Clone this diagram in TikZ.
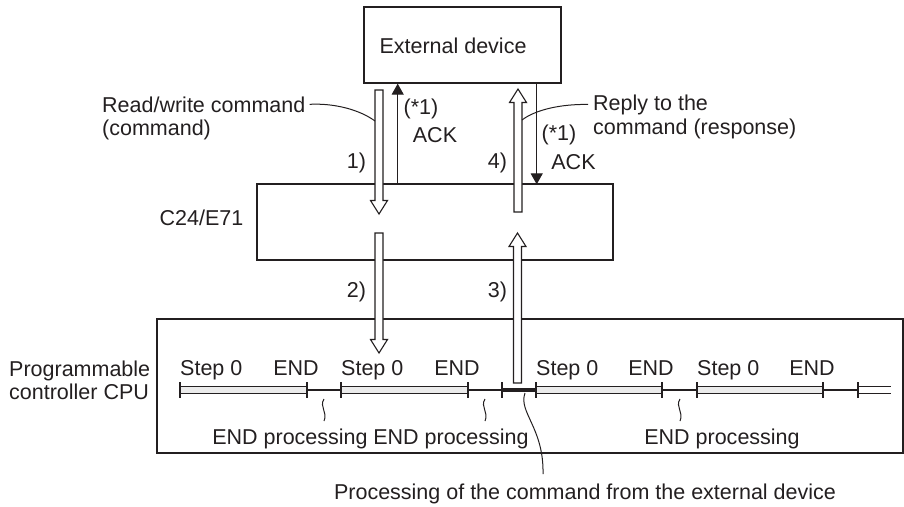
\documentclass[tikz,border=0pt]{standalone}
\usepackage{fontspec}
\setmainfont{Liberation Sans}
\usetikzlibrary{arrows.meta}
\definecolor{ink}{HTML}{231F20}
\begin{document}
\begin{tikzpicture}[x=1pt,y=-1pt,
  every node/.style={font=\fontsize{21.5}{24}\selectfont, inner sep=0pt, text=ink},
  box/.style={draw=ink, line width=1.3pt, inner sep=0pt},
  leader/.style={draw=ink, line width=1pt},
  ack/.style={draw=ink, line width=1.2pt, -{Triangle[width=12pt,length=11pt]}},
  tick/.style={draw=ink, line width=1.5pt},
  link/.style={draw=ink, line width=1.3pt},
  scanbar/.style={draw=ink, line width=1.1pt, fill=black!8},
  pics/blockarrow/.style={code={
    \draw[draw=ink, line width=1.1pt, fill=white, line join=miter]
      (-4,0) -- (-4,{#1-13.5}) -- (-8.5,{#1-13.5}) -- (0,#1)
      -- (8.5,{#1-13.5}) -- (4,{#1-13.5}) -- (4,0) -- cycle;}}
]
\useasboundingbox (0,0) rectangle (904,506);

% units
\node[box, minimum width=197pt, minimum height=76pt] (ext) at (462.5,45) {};
\node[anchor=base] (exttxt) at (453,53) {External device};
\node[box, minimum width=356pt, minimum height=76pt] (c24) at (435,222) {};
\node[anchor=base] (c24txt) at (201.5,225) {C24/E71};
\node[box, minimum width=746pt, minimum height=134pt] (plc) at (530,386) {};
\node[anchor=base west] (plc1) at (9,376) {Programmable};
\node[anchor=base west] (plc2) at (9,399) {controller CPU};

% block arrows: command, transfer, return, response
\pic at (379,90) {blockarrow=124};
\pic at (379,233) {blockarrow=120};
\pic[rotate=180] at (517.5,383) {blockarrow=150};
\pic[rotate=180] at (518,212) {blockarrow=123};

% ACK lines
\coordinate (ackup) at (397.7,0);
\coordinate (ackdn) at (536.7,0);
\draw[ack] (c24.north -| ackup) -- (ext.south -| ackup);
\draw[ack] (ext.south -| ackdn) -- ([yshift=-1pt]c24.north -| ackdn);

% labels around the arrows
\node[anchor=base] (n1) at (356.5,168) {1)};
\node[anchor=base] (n4) at (497.5,168) {4)};
\node[anchor=base] (n2) at (356.5,297) {2)};
\node[anchor=base] (n3) at (497.5,297) {3)};
\node[anchor=base] (s1a) at (421,114) {(*1)};
\node[anchor=base] (ack1) at (435,142) {ACK};
\node[anchor=base] (s1b) at (559,140) {(*1)};
\node[anchor=base] (ack2) at (573.5,169) {ACK};

\node[anchor=base west] (rw) at (102,112) {Read/write command};
\node[anchor=base west] (rw2) at (102,135) {(command)};
\node[anchor=base west] (rp) at (593,110) {Reply to the};
\node[anchor=base west] (rp2) at (593,134) {command (response)};
\coordinate (rwend) at (375,121);
\coordinate (rpend) at (522,120);
\draw[leader] ([xshift=4pt]rw.east) .. controls (335,103) and (360,110) .. (rwend);
\draw[leader] ([xshift=-5pt]rp.west) .. controls (560,104) and (535,110) .. (rpend);

% scan timeline
\foreach \a/\b in {307/341, 468/502, 662/697, 823/858}
  \draw[link] (\a,390) -- (\b,390);
\draw[draw=ink, line width=4pt] (502,390) -- (536,390);
\foreach \a/\b in {180/307, 341/468, 536/662, 697/823}
  \draw[scanbar] (\a,386.5) rectangle (\b,393.5);
\draw[link] (858,386.5) -- (891,386.5);
\draw[link] (858,393.5) -- (891,393.5);
\foreach \x in {180,307,341,468,502,536,662,697,823,858}
  \draw[tick] (\x,382) -- (\x,398);

\foreach \s/\e [count=\i] in {180/307, 341/468, 536/662, 697/823} {
  \node[anchor=base west] (step\i) at (\s,375) {Step 0};
  \node[anchor=base] (end\i) at ({\e-11},375) {END};
}

% END processing marks
\foreach \x in {324,485,680}
  \draw[leader] (\x,399) .. controls (\x-5,407) and (\x+4,412) .. (\x,421);
\node[anchor=base] (ep1) at (290,444) {END processing};
\node[anchor=base] (ep2) at (451,444) {END processing};
\node[anchor=base] (ep3) at (722,444) {END processing};

\node[anchor=base] (proc) at (585,499) {Processing of the command from the external device};
\coordinate (procseg) at (525,393);
\coordinate (procend) at (543,474);
\draw[leader] (procseg) .. controls (518,412) and (544,428) .. (procend);
\end{tikzpicture}
\end{document}
